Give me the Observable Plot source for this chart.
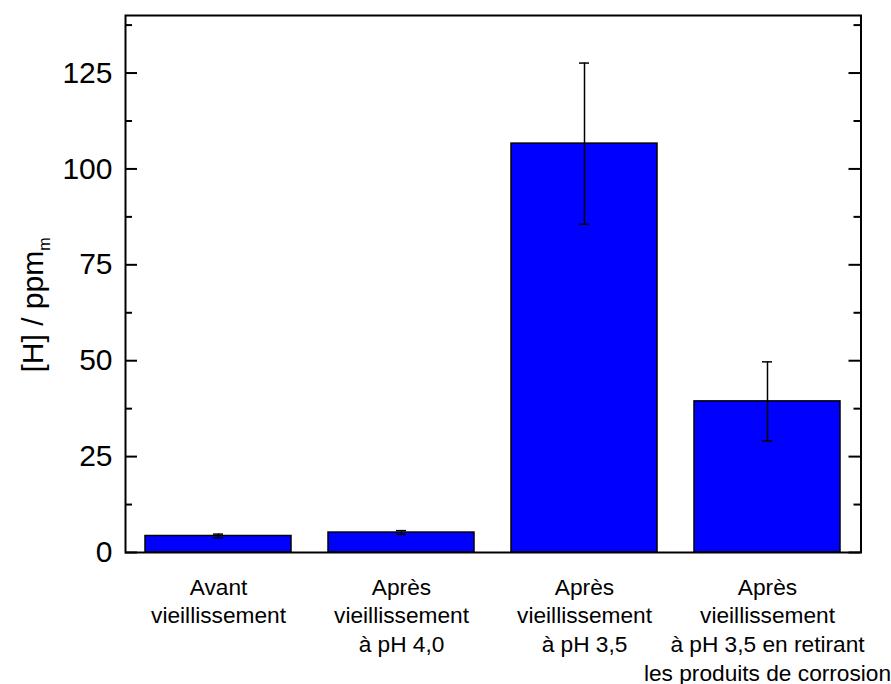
<!DOCTYPE html>
<html>
<head>
<meta charset="utf-8">
<script src="https://cdn.jsdelivr.net/npm/d3@7"></script>
<script src="https://cdn.jsdelivr.net/npm/@observablehq/plot@0.6"></script>
<style>
  html, body { margin: 0; padding: 0; background: #fff; }
  #chart { width: 891px; height: 684px; }
</style>
</head>
<body>
<div id="chart"></div>
<script>
const categories = [
  "Avant\nvieillissement",
  "Après\nvieillissement\nà pH 4,0",
  "Après\nvieillissement\nà pH 3,5",
  "Après\nvieillissement\nà pH 3,5 en retirant\nles produits de corrosion"
];
const values = [4.3, 5.2, 106.6, 39.4];
const errors = [0.5, 0.5, 21.0, 10.3];
const majorTicks = [0, 25, 50, 75, 100, 125];
const minorTicks = [12.5, 37.5, 62.5, 87.5, 112.5, 137.5];

const data = categories.map((c, i) => ({cat: c, v: values[i], lo: values[i] - errors[i], hi: values[i] + errors[i]}));
const caps = data.flatMap(d => [{cat: d.cat, y: d.lo}, {cat: d.cat, y: d.hi}]);

const W = 891, H = 684;
const mL = 125, mR = 30.5, mT = 15, mB = 132;
const fw = W - mL - mR;

const plot = Plot.plot({
  width: W,
  height: H,
  marginLeft: mL,
  marginRight: mR,
  marginTop: mT,
  marginBottom: mB,
  style: {fontFamily: "'Liberation Sans', Arial, sans-serif", background: "#fff", color: "#000", overflow: "visible"},
  x: {domain: categories, paddingInner: 0.2, paddingOuter: 0.1},
  y: {domain: [0, 140]},
  marks: [
    Plot.barY(data, {x: "cat", y: "v", fill: "#0000ff", stroke: "#000", strokeWidth: 1.5}),
    Plot.ruleX(data, {x: "cat", y1: "lo", y2: "hi", stroke: "#000", strokeWidth: 1.5}),
    Plot.tickY(caps, {x: "cat", y: "y", stroke: "#000", strokeWidth: 1.5, insetLeft: 68, insetRight: 68}),
    Plot.tickY(majorTicks, {y: d => d, stroke: "#000", strokeWidth: 2, insetRight: fw - 12}),
    Plot.tickY(minorTicks, {y: d => d, stroke: "#000", strokeWidth: 2, insetRight: fw - 7}),
    Plot.tickY(majorTicks, {y: d => d, stroke: "#000", strokeWidth: 2, insetLeft: fw - 12}),
    Plot.tickY(minorTicks, {y: d => d, stroke: "#000", strokeWidth: 2, insetLeft: fw - 7}),
    Plot.axisY({ticks: majorTicks, tickSize: 0, tickPadding: 13, fontSize: 30, label: null}),
    Plot.axisX({tickSize: 0, tickPadding: 22, fontSize: 22.7, lineHeight: 1.26, label: null}),
    Plot.frame({stroke: "#000", strokeWidth: 2})
  ]
});

const svg = d3.select(plot);
const lbl = svg.append("text")
  .attr("transform", "translate(43,305) rotate(-90)")
  .attr("text-anchor", "middle")
  .attr("font-family", "'Liberation Sans', Arial, sans-serif")
  .attr("font-size", 30)
  .attr("fill", "#000");
lbl.append("tspan").text("[H] / ppm");
lbl.append("tspan").attr("font-size", 16).attr("dy", 7).text("m");

document.getElementById("chart").appendChild(plot);
</script>
</body>
</html>
